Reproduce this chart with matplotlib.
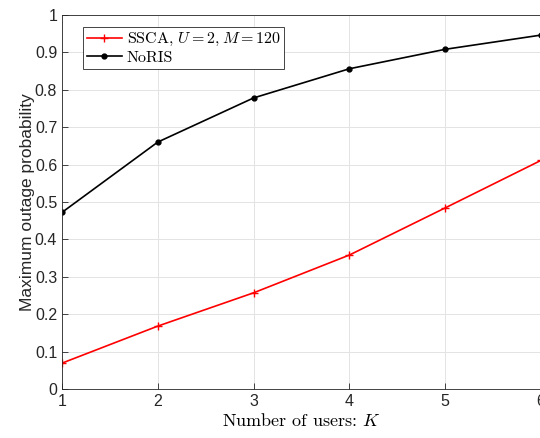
import matplotlib
matplotlib.use("Agg")
import matplotlib.pyplot as plt

# Datos
usuarios = [1, 2, 3, 4, 5, 6]
ssca = [0.069, 0.168, 0.257, 0.358, 0.484, 0.611]
noris = [0.472, 0.660, 0.778, 0.856, 0.908, 0.946]
yticks = [0, 0.1, 0.2, 0.3, 0.4, 0.5, 0.6, 0.7, 0.8, 0.9, 1]
ytick_labels = ["0", "0.1", "0.2", "0.3", "0.4", "0.5", "0.6", "0.7", "0.8", "0.9", "1"]

plt.rcParams['font.family'] = ['Liberation Sans', 'DejaVu Sans']
plt.rcParams['mathtext.fontset'] = 'cm'

fig = plt.figure(figsize=(5.4, 4.38), dpi=100)
ax = fig.add_axes([0.1148, 0.112, 0.8870, 0.854])

ax.plot(usuarios, ssca, color='red', marker='+', markersize=6, linewidth=1.2,
        label=r'SSCA, $U=2, M=120$')
ax.plot(usuarios, noris, color='black', marker='o', markersize=3.5, linewidth=1.2,
        label='NoRIS')

ax.set_xlim(1, 6)
ax.set_ylim(0, 1)
ax.set_xticks(usuarios)
ax.set_yticks(yticks)
ax.set_yticklabels(ytick_labels)
ax.tick_params(direction='in', labelsize=11.5, colors='#262626', length=4, width=0.6)
for s in ax.spines.values():
    s.set_color('#262626')
    s.set_linewidth(0.6)
ax.grid(True, color='#e3e3e3', linewidth=0.7)
ax.set_axisbelow(True)

ax.set_xlabel('Number of users: $K$', fontsize=13, fontfamily='cmr10', labelpad=2)
ax.set_ylabel('Maximum outage probability', fontsize=12.5, color='#262626', labelpad=0)

leg = ax.legend(loc='upper left', bbox_to_anchor=(0.033, 0.98),
                prop={'family': 'cmr10', 'size': 11.5},
                fancybox=False, edgecolor='#262626', framealpha=1,
                borderpad=0.25, handlelength=2.2, handletextpad=0.3, labelspacing=0.15,
                borderaxespad=0.3)
leg.get_frame().set_linewidth(0.6)

fig.savefig('out.png', dpi=100)
